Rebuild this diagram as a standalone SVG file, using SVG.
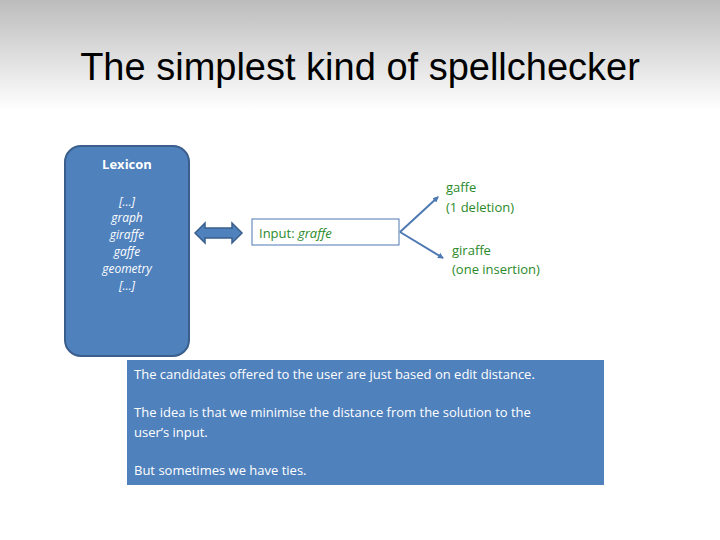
<svg xmlns="http://www.w3.org/2000/svg" width="720" height="540" viewBox="0 0 720 540">
<defs>
<linearGradient id="bg" x1="0" y1="0" x2="0" y2="1">
<stop offset="0" stop-color="#bcbcbc"/><stop offset="1" stop-color="#ffffff"/>
</linearGradient>
<marker id="ah" markerWidth="6" markerHeight="6" refX="5" refY="3" orient="auto" markerUnits="userSpaceOnUse"><path d="M0,0L6,3L0,6z" fill="#4f79b3"/></marker>
</defs>
<style>
text{font-family:"Open Sans","DejaVu Sans",sans-serif}
.w{fill:#fff;font-size:12px;text-anchor:middle;font-style:italic}
.g{fill:#2a8a2a;font-size:13px}
.b{fill:#fff;font-size:13px}
</style>
<rect width="720" height="540" fill="#fff"/>
<rect width="720" height="110" fill="url(#bg)"/>
<text x="360" y="80" font-size="38" text-anchor="middle" fill="#000" style="font-family:'Liberation Sans','Open Sans',sans-serif">The simplest kind of spellchecker</text>
<g id="lexicon">
<rect x="65" y="146" width="124" height="210" rx="16" fill="#4f81bd" stroke="#3a5f8c" stroke-width="2"/>
<text x="127" y="169" fill="#fff" font-size="13" font-weight="bold" text-anchor="middle">Lexicon</text>
<text class="w" x="127" y="206">[…]</text>
<text class="w" x="127" y="222">graph</text>
<text class="w" x="127" y="239">giraffe</text>
<text class="w" x="127" y="256">gaffe</text>
<text class="w" x="127" y="273">geometry</text>
<text class="w" x="127" y="290">[…]</text>
</g>
<g id="dblarrow">
<path d="M195,233 L205,223 L205,228 L232,228 L232,223 L242,233 L232,243 L232,238 L205,238 L205,243 Z" fill="#4f81bd" stroke="#3a5f8c" stroke-width="1.5"/>
</g>
<g id="input">
<rect x="252" y="219" width="147" height="26" fill="#fff" stroke="#4f79b3"/>
<text x="259" y="238" font-size="13" fill="#2a8a2a">Input: <tspan font-style="italic">graffe</tspan></text>
</g>
<g id="connectors" stroke="#4f79b3" stroke-width="2">
<line x1="400" y1="232" x2="438" y2="197" marker-end="url(#ah)"/>
<line x1="400" y1="232" x2="443" y2="258" marker-end="url(#ah)"/>
</g>
<g id="gaffe"><text class="g" x="446" y="192">gaffe</text><text class="g" x="446" y="212">(1 deletion)</text></g>
<g id="giraffe"><text class="g" x="452" y="255">giraffe</text><text class="g" x="452" y="274">(one insertion)</text></g>
<g id="note">
<rect x="127" y="360" width="477" height="125" fill="#4f81bd"/>
<text class="b" x="134" y="379">The candidates offered to the user are just based on edit distance.</text>
<text class="b" x="134" y="417">The idea is that we minimise the distance from the solution to the</text>
<text class="b" x="134" y="437">user’s input.</text>
<text class="b" x="134" y="475">But sometimes we have ties.</text>
</g>
</svg>
